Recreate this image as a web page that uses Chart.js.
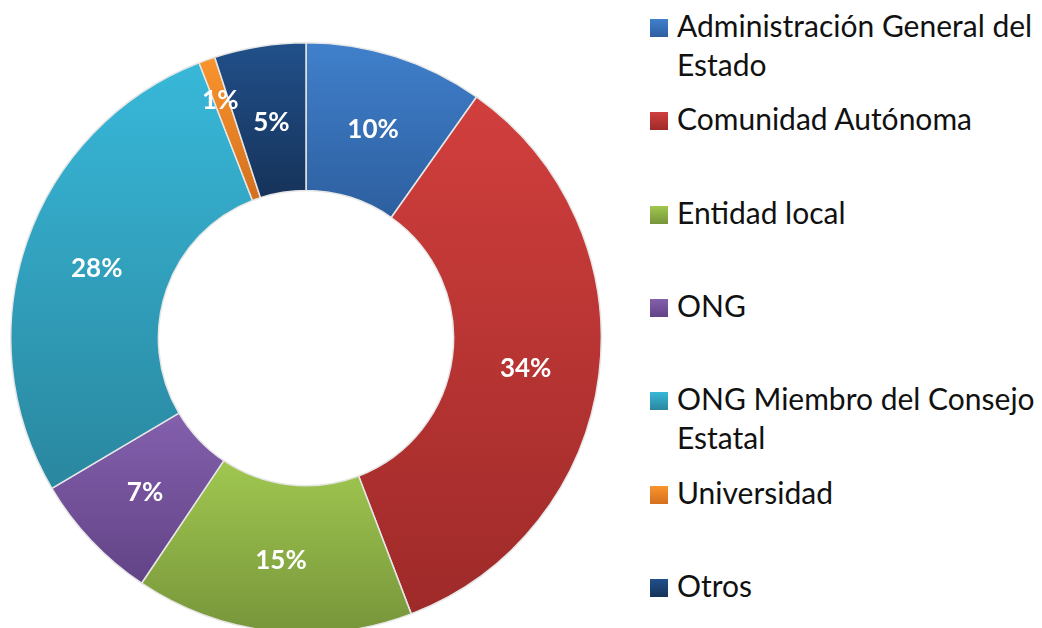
<!DOCTYPE html>
<html>
<head>
<meta charset="utf-8">
<script src="https://cdn.jsdelivr.net/npm/chart.js@4"></script>
<style>
    html, body { margin: 0; padding: 0; background: #fff; overflow: hidden; }
    body { width: 1042px; height: 628px; position: relative; }
    #chart-box { position: absolute; left: 10px; top: 42px; width: 592px; height: 592px; }
    #legend { position: absolute; left: 650px; top: 0; width: 392px; height: 628px; font-family: Lato, sans-serif; font-size: 30px; color: #111; }
    .item { position: absolute; left: 0; width: 392px; }
    .swatch { position: absolute; left: 0; width: 18px; height: 18px; }
    .label { position: absolute; left: 27px; line-height: 39px; white-space: nowrap; }
</style>
</head>
<body>
<div id="chart-box"><canvas id="donut"></canvas></div>
<div id="legend"></div>
<script>
const categories = [
    ['Administración General del', 'Estado'],
    ['Comunidad Autónoma'],
    ['Entidad local'],
    ['ONG'],
    ['ONG Miembro del Consejo', 'Estatal'],
    ['Universidad'],
    ['Otros'],
];
const shares = [9.8, 34.4, 15.2, 7.1, 27.6, 0.9, 5.0];
const lightColors = ['#4080cc', '#d13f3d', '#a0c750', '#8460ad', '#38b8d9', '#fa942e', '#21508a'];
const darkColors = ['#2d5f9f', '#9e2a29', '#77953a', '#624386', '#2a879f', '#d4701e', '#16335a'];

const total = shares.reduce((a, b) => a + b, 0);

// vertical gradient spanning the bounding box of each slice
function sliceGradient(context) {
    const chart = context.chart;
    const area = chart.chartArea;
    const i = context.dataIndex;
    if (!area || i === undefined) return lightColors[i || 0];
    const cx = (area.left + area.right) / 2;
    const cy = (area.top + area.bottom) / 2;
    const R = Math.min(area.width, area.height) / 2;
    const r = R * 0.5;
    let before = 0;
    for (let k = 0; k < i; k++) before += shares[k];
    const a0 = before / total * Math.PI * 2 - Math.PI / 2;
    const a1 = (before + shares[i]) / total * Math.PI * 2 - Math.PI / 2;
    let ymin = Infinity, ymax = -Infinity;
    for (let s = 0; s <= 40; s++) {
        const a = a0 + (a1 - a0) * s / 40;
        [r, R].forEach(rad => {
            const y = cy + rad * Math.sin(a);
            ymin = Math.min(ymin, y);
            ymax = Math.max(ymax, y);
        });
    }
    const g = chart.ctx.createLinearGradient(0, ymin, 0, ymax);
    g.addColorStop(0, lightColors[i]);
    g.addColorStop(1, darkColors[i]);
    return g;
}

const sliceLabels = {
    id: 'sliceLabels',
    afterDatasetsDraw(chart) {
        const ctx = chart.ctx;
        const meta = chart.getDatasetMeta(0);
        ctx.save();
        ctx.fillStyle = '#fff';
        ctx.font = 'bold 26px Lato, sans-serif';
        ctx.textAlign = 'center';
        ctx.textBaseline = 'middle';
        meta.data.forEach((arc, i) => {
            const p = arc.getProps(['x', 'y', 'startAngle', 'endAngle', 'innerRadius', 'outerRadius'], true);
            const mid = (p.startAngle + p.endAngle) / 2;
            let rad = (p.innerRadius + p.outerRadius) / 2;
            if (shares[i] / total < 0.02) rad = p.outerRadius - 40;
            const txt = Math.round(shares[i] / total * 100) + '%';
            ctx.fillText(txt, p.x + rad * Math.cos(mid), p.y + rad * Math.sin(mid) + 3);
        });
        ctx.restore();
    }
};

const legend = document.getElementById('legend');
categories.forEach((lines, i) => {
    const centre = 28 + i * 93.3;
    const item = document.createElement('div');
    item.className = 'item';
    item.style.top = (centre - 9) + 'px';
    const sw = document.createElement('div');
    sw.className = 'swatch';
    sw.style.background = `linear-gradient(${lightColors[i]}, ${darkColors[i]})`;
    const lab = document.createElement('div');
    lab.className = 'label';
    lab.style.top = '-13px';
    lab.innerHTML = lines.join('<br>');
    item.appendChild(sw);
    item.appendChild(lab);
    legend.appendChild(item);
});

new Chart(document.getElementById('donut'), {
    type: 'doughnut',
    data: {
        labels: categories.map(l => l.join(' ')),
        datasets: [{
            data: shares,
            backgroundColor: sliceGradient,
            borderColor: '#e6e6e6',
            borderWidth: 1.5,
        }]
    },
    options: {
        responsive: true,
        maintainAspectRatio: false,
        animation: false,
        cutout: '50%',
        layout: { padding: 0 },
        plugins: {
            legend: { display: false },
            tooltip: { enabled: false },
        }
    },
    plugins: [sliceLabels]
});
</script>
</body>
</html>
